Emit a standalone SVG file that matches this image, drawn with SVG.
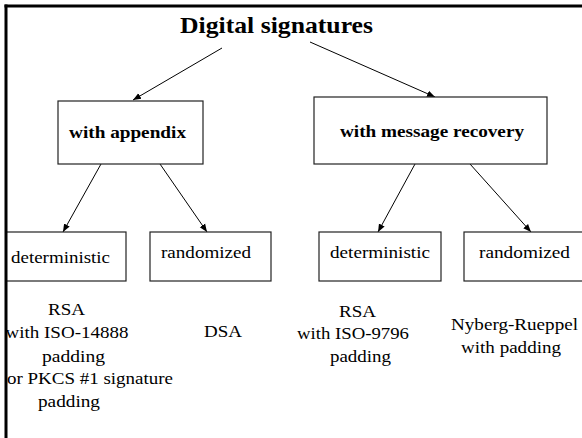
<svg xmlns="http://www.w3.org/2000/svg" width="582" height="438" viewBox="0 0 582 438">
<style>
.box{fill:#fff;stroke:#222;stroke-width:1.2}
text{font-family:'Liberation Serif','DejaVu Serif',serif;font-size:17.5px;fill:#000}
.b{font-weight:bold}
.ttl{font-size:23px}
.c{text-anchor:middle}
.e{stroke:#000;stroke-width:1;fill:none;marker-end:url(#ah)}
</style>
<defs>
<marker id="ah" viewBox="0 0 10 10" refX="10" refY="5" markerWidth="8" markerHeight="8" markerUnits="userSpaceOnUse" orient="auto">
<path d="M0,1 L10,5 L0,9 Z" fill="#000"/>
</marker>
</defs>
<rect x="0" y="0" width="582" height="438" fill="#fff"/>
<g id="title"><text class="b c ttl" x="276.5" y="33" textLength="193" lengthAdjust="spacingAndGlyphs">Digital signatures</text></g>
<g id="connectors">
<line class="e" x1="222" y1="48" x2="133" y2="100"/>
<line class="e" x1="310" y1="42" x2="435" y2="97"/>
<line class="e" x1="101" y1="164" x2="63" y2="232"/>
<line class="e" x1="160" y1="164" x2="207" y2="232"/>
<line class="e" x1="415" y1="164" x2="378" y2="232"/>
<line class="e" x1="470" y1="164" x2="531" y2="232"/>
</g>
<g id="appendix"><rect class="box" x="58" y="101" width="145" height="63"/><text class="b c" x="127.5" y="138" textLength="117" lengthAdjust="spacingAndGlyphs">with appendix</text></g>
<g id="recovery"><rect class="box" x="314" y="97" width="233" height="67"/><text class="b c" x="432" y="137" textLength="184" lengthAdjust="spacingAndGlyphs">with message recovery</text></g>
<g id="det1"><rect class="box" x="6" y="232" width="120" height="49"/><text class="c" x="60.5" y="263" textLength="99" lengthAdjust="spacingAndGlyphs">deterministic</text></g>
<g id="rand1"><rect class="box" x="150" y="232" width="121" height="49"/><text class="c" x="206" y="258" textLength="90" lengthAdjust="spacingAndGlyphs">randomized</text></g>
<g id="det2"><rect class="box" x="319" y="232" width="122" height="49"/><text class="c" x="380" y="258" textLength="100" lengthAdjust="spacingAndGlyphs">deterministic</text></g>
<g id="rand2"><rect class="box" x="464" y="232" width="130" height="49"/><text class="c" x="524.5" y="258" textLength="91" lengthAdjust="spacingAndGlyphs">randomized</text></g>
<g id="ex1">
<text class="c" x="66.5" y="315" textLength="37" lengthAdjust="spacingAndGlyphs">RSA</text>
<text class="c" x="67" y="338" textLength="123" lengthAdjust="spacingAndGlyphs">with ISO-14888</text>
<text class="c" x="73.5" y="362" textLength="63" lengthAdjust="spacingAndGlyphs">padding</text>
<text class="c" x="90" y="384" textLength="166" lengthAdjust="spacingAndGlyphs">or PKCS #1 signature</text>
<text class="c" x="69" y="407" textLength="62" lengthAdjust="spacingAndGlyphs">padding</text>
</g>
<g id="ex2"><text class="c" x="223" y="337" textLength="38" lengthAdjust="spacingAndGlyphs">DSA</text></g>
<g id="ex3">
<text class="c" x="357.5" y="317" textLength="37" lengthAdjust="spacingAndGlyphs">RSA</text>
<text class="c" x="353" y="339" textLength="112" lengthAdjust="spacingAndGlyphs">with ISO-9796</text>
<text class="c" x="360.5" y="362" textLength="61" lengthAdjust="spacingAndGlyphs">padding</text>
</g>
<g id="ex4">
<text class="c" x="514.5" y="330" textLength="127" lengthAdjust="spacingAndGlyphs">Nyberg-Rueppel</text>
<text class="c" x="511" y="353" textLength="100" lengthAdjust="spacingAndGlyphs">with padding</text>
</g>
<g id="frame">
<line x1="4.5" y1="6" x2="582" y2="6" stroke="#000" stroke-width="3"/>
<line x1="6" y1="4.5" x2="6" y2="438" stroke="#000" stroke-width="3"/>
</g>
</svg>
